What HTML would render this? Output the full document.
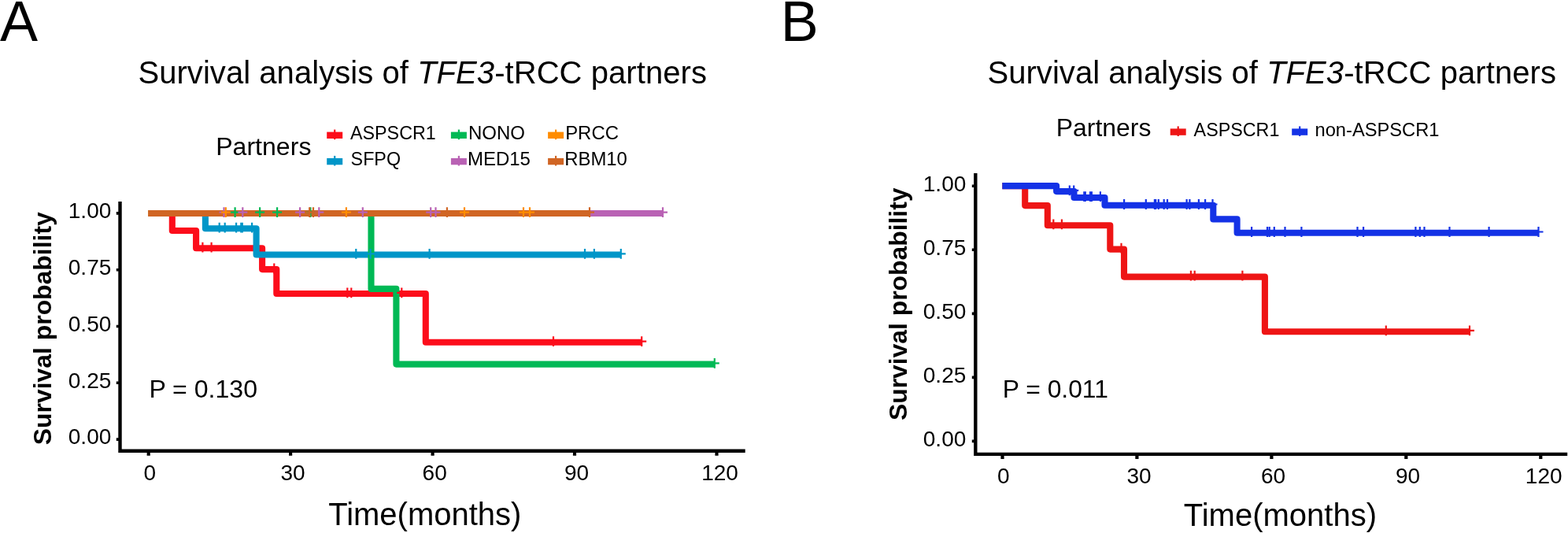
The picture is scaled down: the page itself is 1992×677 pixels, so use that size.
<!DOCTYPE html>
<html><head><meta charset="utf-8"><title>Survival analysis of TFE3-tRCC partners</title>
<style>html,body{margin:0;padding:0;background:#fff}svg{display:block}</style></head>
<body>
<svg width="1992" height="677" viewBox="0 0 1992 677" font-family='"Liberation Sans", Arial, Helvetica, sans-serif' fill="#000">
<rect width="1992" height="677" fill="#fff"/>
<text x="0" y="51.7" font-size="72" text-anchor="start" font-weight="normal" >A</text>
<text x="991.7" y="51.7" font-size="72" text-anchor="start" font-weight="normal" >B</text>
<text x="175.4" y="105.8" font-size="40" text-anchor="start" font-weight="normal" textLength="722.5" lengthAdjust="spacing">Survival analysis of <tspan font-style="italic">TFE3</tspan>-tRCC partners</text>
<text x="1254.4" y="105.8" font-size="40" text-anchor="start" font-weight="normal" textLength="722.5" lengthAdjust="spacing">Survival analysis of <tspan font-style="italic">TFE3</tspan>-tRCC partners</text>
<path d="M152.5,256.1 V572.8 H946.7" fill="none" stroke="#000" stroke-width="4.4" stroke-linejoin="miter"/>
<path d="M147.8,270.9H152M147.8,342.7H152M147.8,414.5H152M147.8,486.3H152M147.8,558.1H152" stroke="#000" stroke-width="3.6" fill="none"/>
<text x="141.3" y="277.2" font-size="28" text-anchor="end" font-weight="normal" >1.00</text>
<text x="141.3" y="349.0" font-size="28" text-anchor="end" font-weight="normal" >0.75</text>
<text x="141.3" y="420.8" font-size="28" text-anchor="end" font-weight="normal" >0.50</text>
<text x="141.3" y="492.6" font-size="28" text-anchor="end" font-weight="normal" >0.25</text>
<text x="141.3" y="564.4" font-size="28" text-anchor="end" font-weight="normal" >0.00</text>
<path d="M188.7,573V578.8M369.1,573V578.8M549.6,573V578.8M730.0,573V578.8M910.5,573V578.8" stroke="#000" stroke-width="4.2" fill="none"/>
<text x="190.2" y="610.1" font-size="28" text-anchor="middle" font-weight="normal" >0</text>
<text x="372" y="610.1" font-size="28" text-anchor="middle" font-weight="normal" >30</text>
<text x="552.2" y="610.1" font-size="28" text-anchor="middle" font-weight="normal" >60</text>
<text x="732.5" y="610.1" font-size="28" text-anchor="middle" font-weight="normal" >90</text>
<text x="914.5" y="610.1" font-size="28" text-anchor="middle" font-weight="normal" >120</text>
<text x="539.8" y="666.9" font-size="40" text-anchor="middle" font-weight="normal" >Time(months)</text>
<text transform="translate(64.9,565.2) rotate(-90)" font-size="31.9" font-weight="bold">Survival probability</text>
<text x="274.2" y="196.5" font-size="32.1" text-anchor="start" font-weight="normal" >Partners</text>
<path d="M415.2,171.8h20" stroke="#fc0d1b" stroke-width="8.4" fill="none"/>
<path d="M425.2,164.60000000000002v12.6" stroke="#fc0d1b" stroke-width="2.2" fill="none"/>
<text x="445" y="176.9" font-size="23.3" text-anchor="start" font-weight="normal" >ASPSCR1</text>
<path d="M415.2,205.1h20" stroke="#0096c8" stroke-width="8.4" fill="none"/>
<path d="M425.2,197.9v12.6" stroke="#0096c8" stroke-width="2.2" fill="none"/>
<text x="445.6" y="210.2" font-size="23.3" text-anchor="start" font-weight="normal" >SFPQ</text>
<path d="M572.9,171.8h20" stroke="#00b955" stroke-width="8.4" fill="none"/>
<path d="M582.9,164.60000000000002v12.6" stroke="#00b955" stroke-width="2.2" fill="none"/>
<text x="594.9" y="176.9" font-size="24" text-anchor="start" font-weight="normal" >NONO</text>
<path d="M572.9,205.1h20" stroke="#b962b4" stroke-width="8.4" fill="none"/>
<path d="M582.9,197.9v12.6" stroke="#b962b4" stroke-width="2.2" fill="none"/>
<text x="593.9" y="210.2" font-size="24" text-anchor="start" font-weight="normal" >MED15</text>
<path d="M696.1,171.8h20" stroke="#ff8c00" stroke-width="8.4" fill="none"/>
<path d="M706.1,164.60000000000002v12.6" stroke="#ff8c00" stroke-width="2.2" fill="none"/>
<text x="718.2" y="176.9" font-size="23.9" text-anchor="start" font-weight="normal" >PRCC</text>
<path d="M696.1,205.1h20" stroke="#d06524" stroke-width="8.4" fill="none"/>
<path d="M706.1,197.9v12.6" stroke="#d06524" stroke-width="2.2" fill="none"/>
<text x="717.2" y="210.2" font-size="23.9" text-anchor="start" font-weight="normal" >RBM10</text>
<path d="M188.4,271.0 H218.8 V293.0 H249.1 V315.2 H333.1 V342.1 H351.3 V373.0 H540.8 V434.7 H815.2" fill="none" stroke="#fc0d1b" stroke-width="8.1" stroke-linejoin="round"/>
<path d="M188.4,271.0 H260.9 V290.2 H325.6 V323.5 H788.8" fill="none" stroke="#0096c8" stroke-width="8.1" stroke-linejoin="round"/>
<path d="M188.4,271.0 H471.5 V366.9 H503.4 V462.6 H907.8" fill="none" stroke="#00b955" stroke-width="8.1" stroke-linejoin="round"/>
<path d="M188.4,270.9 H842.0" fill="none" stroke="#b962b4" stroke-width="8.0" stroke-linejoin="round"/>
<path d="M188.4,270.9 H673.0" fill="none" stroke="#ff8c00" stroke-width="7.6" stroke-linejoin="round"/>
<path d="M188.4,270.9 H749.0" fill="none" stroke="#d06524" stroke-width="8.0" stroke-linejoin="round"/>
<path d="M251.4,314.1h12.0M257.4,307.7v12.8M262.6,314.1h12.0M268.6,307.7v12.8" fill="none" stroke="#fc0d1b" stroke-width="2.2"/>
<path d="M342.3,341.0h12.0M348.3,334.6v12.8" fill="none" stroke="#fc0d1b" stroke-width="2.2"/>
<path d="M435.3,371.9h12.0M441.3,365.5v12.8M440.3,371.9h12.0M446.3,365.5v12.8M504.3,371.9h12.0M510.3,365.5v12.8" fill="none" stroke="#fc0d1b" stroke-width="2.2"/>
<path d="M697.0,433.6h12.0M703.0,427.2v12.8M809.2,433.6h12.0M815.2,427.2v12.8" fill="none" stroke="#fc0d1b" stroke-width="2.2"/>
<path d="M272.7,289.1h12.0M278.7,282.7v12.8M279.7,289.1h12.0M285.7,282.7v12.8M294.1,289.1h12.0M300.1,282.7v12.8M300.3,289.1h12.0M306.3,282.7v12.8M301.8,289.1h12.0M307.8,282.7v12.8M314.1,289.1h12.0M320.1,282.7v12.8" fill="none" stroke="#0096c8" stroke-width="2.2"/>
<path d="M446.3,322.4h12.0M452.3,316.0v12.8M464.6,322.4h12.0M470.6,316.0v12.8M539.6,322.4h12.0M545.6,316.0v12.8M737.0,322.4h12.0M743.0,316.0v12.8M748.9,322.4h12.0M754.9,316.0v12.8M782.8,322.4h12.0M788.8,316.0v12.8" fill="none" stroke="#0096c8" stroke-width="2.2"/>
<path d="M901.8,461.4h12.0M907.8,455.0v12.8" fill="none" stroke="#00b955" stroke-width="2.2"/>
<path d="M292.6,269.7h12.0M298.6,263.3v12.8M324.1,269.7h12.0M330.1,263.3v12.8M346.1,269.7h12.0M352.1,263.3v12.8M388.4,269.7h12.0M394.4,263.3v12.8" fill="none" stroke="#00b955" stroke-width="2.2"/>
<path d="M278.5,269.7h12.0M284.5,263.3v12.8M302.3,269.7h12.0M308.3,263.3v12.8M375.1,269.7h12.0M381.1,263.3v12.8M399.3,269.7h12.0M405.3,263.3v12.8M454.8,269.7h12.0M460.8,263.3v12.8M541.2,269.7h12.0M547.2,263.3v12.8M547.5,269.7h12.0M553.5,263.3v12.8M836.0,269.7h12.0M842.0,263.3v12.8" fill="none" stroke="#b962b4" stroke-width="2.2"/>
<path d="M280.8,269.7h12.0M286.8,263.3v12.8M433.9,269.7h12.0M439.9,263.3v12.8M584.0,269.7h12.0M590.0,263.3v12.8M659.0,269.7h12.0M665.0,263.3v12.8M667.0,269.7h12.0M673.0,263.3v12.8" fill="none" stroke="#ff8c00" stroke-width="2.2"/>
<path d="M387.2,269.7h12.0M393.2,263.3v12.8M392.0,269.7h12.0M398.0,263.3v12.8M561.9,269.7h12.0M567.9,263.3v12.8M743.0,269.7h12.0M749.0,263.3v12.8" fill="none" stroke="#d06524" stroke-width="2.2"/>
<text x="189.4" y="505.2" font-size="32.1" text-anchor="start" font-weight="normal" >P = 0.130</text>
<path d="M1239.3,220.1 V576.9 H1991.2" fill="none" stroke="#000" stroke-width="4.4" stroke-linejoin="miter"/>
<path d="M1234.8,236.3H1239M1234.8,317.3H1239M1234.8,398.4H1239M1234.8,479.4H1239M1234.8,560.4H1239" stroke="#000" stroke-width="3.6" fill="none"/>
<text x="1227.3" y="242.6" font-size="28" text-anchor="end" font-weight="normal" >1.00</text>
<text x="1227.3" y="323.6" font-size="28" text-anchor="end" font-weight="normal" >0.75</text>
<text x="1227.3" y="404.7" font-size="28" text-anchor="end" font-weight="normal" >0.50</text>
<text x="1227.3" y="485.7" font-size="28" text-anchor="end" font-weight="normal" >0.25</text>
<text x="1227.3" y="566.7" font-size="28" text-anchor="end" font-weight="normal" >0.00</text>
<path d="M1273.5,577V583M1444.4,577V583M1615.4,577V583M1786.3,577V583M1957.3,577V583" stroke="#000" stroke-width="4.2" fill="none"/>
<text x="1274.9" y="614.3" font-size="28" text-anchor="middle" font-weight="normal" >0</text>
<text x="1447" y="614.3" font-size="28" text-anchor="middle" font-weight="normal" >30</text>
<text x="1617.5" y="614.3" font-size="28" text-anchor="middle" font-weight="normal" >60</text>
<text x="1788.5" y="614.3" font-size="28" text-anchor="middle" font-weight="normal" >90</text>
<text x="1961.2" y="614.3" font-size="28" text-anchor="middle" font-weight="normal" >120</text>
<text x="1626.4" y="668.1" font-size="40" text-anchor="middle" font-weight="normal" >Time(months)</text>
<text transform="translate(1151.6,534.0) rotate(-90)" font-size="31.85" font-weight="bold">Survival probability</text>
<text x="1341.8" y="172.9" font-size="31.9" text-anchor="start" font-weight="normal" >Partners</text>
<path d="M1486.7,167.6h20" stroke="#ee1515" stroke-width="8.4" fill="none"/>
<path d="M1496.7,160.4v12.6" stroke="#ee1515" stroke-width="2.2" fill="none"/>
<text x="1516.6" y="172.9" font-size="23.3" text-anchor="start" font-weight="normal" >ASPSCR1</text>
<path d="M1641.2,167.6h20" stroke="#1432e6" stroke-width="8.4" fill="none"/>
<path d="M1651.2,160.4v12.6" stroke="#1432e6" stroke-width="2.2" fill="none"/>
<text x="1670.5" y="172.9" font-size="23.7" text-anchor="start" font-weight="normal" >non-ASPSCR1</text>
<path d="M1273.3,236.1 H1302.2 V261.1 H1330.8 V286.2 H1410.3 V316.6 H1428.0 V351.6 H1606.9 V421.3 H1867.0" fill="none" stroke="#ee1515" stroke-width="8.1" stroke-linejoin="round"/>
<path d="M1273.3,236.1 H1342.1 V243.1 H1364.5 V251.0 H1403.5 V260.8 H1541.3 V278.4 H1571.6 V295.8 H1954.5" fill="none" stroke="#1432e6" stroke-width="8.1" stroke-linejoin="round"/>
<path d="M1332.3,284.8h12.0M1338.3,278.4v12.8M1342.9,284.8h12.0M1348.9,278.4v12.8" fill="none" stroke="#ee1515" stroke-width="2.2"/>
<path d="M1418.5,315.2h12.0M1424.5,308.8v12.8" fill="none" stroke="#ee1515" stroke-width="2.2"/>
<path d="M1506.9,350.2h12.0M1512.9,343.8v12.8M1511.7,350.2h12.0M1517.7,343.8v12.8M1572.4,350.2h12.0M1578.4,343.8v12.8" fill="none" stroke="#ee1515" stroke-width="2.2"/>
<path d="M1754.8,419.9h12.0M1760.8,413.5v12.8M1861.0,419.9h12.0M1867.0,413.5v12.8" fill="none" stroke="#ee1515" stroke-width="2.2"/>
<path d="M1352.8,241.8h12.0M1358.8,235.4v12.8M1358.2,241.8h12.0M1364.2,235.4v12.8" fill="none" stroke="#1432e6" stroke-width="2.2"/>
<path d="M1371.3,249.7h12.0M1377.3,243.3v12.8M1372.8,249.7h12.0M1378.8,243.3v12.8M1379.0,249.7h12.0M1385.0,243.3v12.8M1380.9,249.7h12.0M1386.9,243.3v12.8M1391.9,249.7h12.0M1397.9,243.3v12.8" fill="none" stroke="#1432e6" stroke-width="2.2"/>
<path d="M1422.1,259.5h12.0M1428.1,253.1v12.8M1449.8,259.5h12.0M1455.8,253.1v12.8M1460.9,259.5h12.0M1466.9,253.1v12.8M1462.2,259.5h12.0M1468.2,253.1v12.8M1465.8,259.5h12.0M1471.8,253.1v12.8M1472.7,259.5h12.0M1478.7,253.1v12.8M1477.0,259.5h12.0M1483.0,253.1v12.8M1501.6,259.5h12.0M1507.6,253.1v12.8M1505.4,259.5h12.0M1511.4,253.1v12.8M1516.9,259.5h12.0M1522.9,253.1v12.8M1525.1,259.5h12.0M1531.1,253.1v12.8M1534.5,259.5h12.0M1540.5,253.1v12.8" fill="none" stroke="#1432e6" stroke-width="2.2"/>
<path d="M1584.1,294.5h12.0M1590.1,288.1v12.8M1604.0,294.5h12.0M1610.0,288.1v12.8M1606.7,294.5h12.0M1612.7,288.1v12.8M1612.8,294.5h12.0M1618.8,288.1v12.8M1626.5,294.5h12.0M1632.5,288.1v12.8M1647.4,294.5h12.0M1653.4,288.1v12.8M1718.5,294.5h12.0M1724.5,288.1v12.8M1726.1,294.5h12.0M1732.1,288.1v12.8M1792.4,294.5h12.0M1798.4,288.1v12.8M1797.8,294.5h12.0M1803.8,288.1v12.8M1803.5,294.5h12.0M1809.5,288.1v12.8M1835.5,294.5h12.0M1841.5,288.1v12.8M1885.6,294.5h12.0M1891.6,288.1v12.8M1948.5,294.5h12.0M1954.5,288.1v12.8" fill="none" stroke="#1432e6" stroke-width="2.2"/>
<text x="1273.8" y="505.4" font-size="31.8" text-anchor="start" font-weight="normal" >P = 0.011</text>
</svg>
</body></html>
